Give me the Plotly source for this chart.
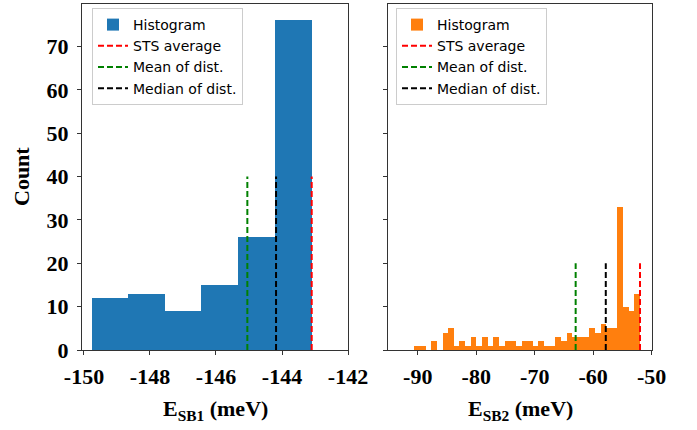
import numpy as np
import plotly.graph_objects as go

# ---- data ----
sb1_edges = [-149.77, -148.66, -147.55, -146.44, -145.33, -144.22, -143.10]
sb1_counts = [12, 13, 9, 15, 26, 76]
sb1_sts_avg = -143.10
sb1_mean = -145.05
sb1_median = -144.18

sb2_first_edge = -90.58
sb2_last_edge = -52.00
sb2_counts = [1, 1, 0, 2, 0, 4, 5, 1, 2, 1,
              3, 1, 3, 1, 3, 1, 2, 2, 1, 2,
              2, 1, 2, 1, 1, 3, 2, 4, 3, 3,
              3, 5, 4, 6, 5, 5, 33, 10, 9, 13]
sb2_sts_avg = -52.00
sb2_mean = -63.00
sb2_median = -57.85

sb1_ticks = [-150, -148, -146, -144, -142]
sb1_ticktext = ["-150", "-148", "-146", "-144", "-142"]
sb2_ticks = [-90, -80, -70, -60, -50]
sb2_ticktext = ["-90", "-80", "-70", "-60", "-50"]
count_ticks = [0, 10, 20, 30, 40, 50, 60, 70]
count_ticktext = ["0", "10", "20", "30", "40", "50", "60", "70"]

line_top_left = 40
line_top_right = 20
legend_labels = ["Histogram", "STS average", "Mean of dist.", "Median of dist."]

# ---- derived geometry ----
e1 = np.array(sb1_edges)
c1 = (e1[:-1] + e1[1:]) / 2
w1 = e1[1:] - e1[:-1]
e2 = np.linspace(sb2_first_edge, sb2_last_edge, len(sb2_counts) + 1)
c2 = (e2[:-1] + e2[1:]) / 2
w2 = e2[1:] - e2[:-1]

BLUE = "#1f77b4"
ORANGE = "#ff7f0e"
DASH = "6px,3px"

fig = go.Figure()

def add_panel(centers, widths, counts, color, sts, mean, median, top, xa, ya, leg):
    fig.add_trace(go.Bar(x=centers, y=counts, width=widths, marker=dict(color=color, line=dict(width=0)),
                         name=legend_labels[0], xaxis=xa, yaxis=ya, legend=leg))
    for val, col, lab in [(sts, "red", legend_labels[1]), (mean, "green", legend_labels[2]),
                          (median, "black", legend_labels[3])]:
        fig.add_trace(go.Scatter(x=[val, val], y=[0, top], mode="lines",
                                 line=dict(color=col, width=2, dash=DASH),
                                 name=lab, xaxis=xa, yaxis=ya, legend=leg))

add_panel(c1, w1, sb1_counts, BLUE, sb1_sts_avg, sb1_mean, sb1_median, line_top_left, "x", "y", "legend")
add_panel(c2, w2, sb2_counts, ORANGE, sb2_sts_avg, sb2_mean, sb2_median, line_top_right, "x2", "y2", "legend2")

tickfont = dict(family="Liberation Serif", size=22, color="black", weight="bold")
axis_common = dict(showgrid=False, zeroline=False, showline=True, mirror=True,
                   linecolor="#333333", linewidth=1, ticks="outside", ticklen=4,
                   tickcolor="#333333", tickfont=tickfont, automargin=False)

yrange = [0, 79.8]
dom_y = [80 / 430, 426 / 430]

legend_common = dict(font=dict(family="DejaVu Sans", size=14, color="black"),
                     bgcolor="rgba(255,255,255,0.8)", bordercolor="#cccccc", borderwidth=1,
                     xanchor="left", yanchor="top", tracegroupgap=0, itemwidth=30)

fig.update_layout(
    template="none",
    width=697, height=430,
    margin=dict(l=0, r=0, t=0, b=0, autoexpand=False),
    paper_bgcolor="white", plot_bgcolor="white",
    bargap=0, showlegend=True,
    xaxis=dict(domain=[82 / 697, 348 / 697], range=[-150.06, -142], tickvals=sb1_ticks,
               ticktext=sb1_ticktext, anchor="y", ticklabelstandoff=3, **axis_common),
    yaxis=dict(domain=dom_y, range=yrange, tickvals=count_ticks, ticktext=count_ticktext,
               anchor="x", ticklabelstandoff=4, **axis_common),
    xaxis2=dict(domain=[388 / 697, 651.7 / 697], range=[-95.08, -50], tickvals=sb2_ticks,
                ticktext=sb2_ticktext, anchor="y2", ticklabelstandoff=3, **axis_common),
    yaxis2=dict(domain=dom_y, range=yrange, tickvals=count_ticks, showticklabels=False,
                anchor="x2", **axis_common),
    legend=dict(x=92 / 697, y=1 - 8 / 430, **legend_common),
    legend2=dict(x=396 / 697, y=1 - 8 / 430, **legend_common),
    annotations=[
        dict(text="E<sub>SB1</sub> (meV)", x=215 / 697, y=1 - 410 / 430, xref="paper", yref="paper",
             showarrow=False, xanchor="center", yanchor="middle",
             font=dict(family="Liberation Serif", size=22, color="black", weight="bold")),
        dict(text="E<sub>SB2</sub> (meV)", x=520 / 697, y=1 - 410 / 430, xref="paper", yref="paper",
             showarrow=False, xanchor="center", yanchor="middle",
             font=dict(family="Liberation Serif", size=22, color="black", weight="bold")),
        dict(text="Count", x=22 / 697, y=1 - 177 / 430, xref="paper", yref="paper",
             showarrow=False, xanchor="center", yanchor="middle", textangle=-90,
             font=dict(family="Liberation Serif", size=22, color="black", weight="bold")),
    ],
)

fig.write_html("out.html", config={"displayModeBar": False},
               post_script="document.body.style.margin='0px';")
